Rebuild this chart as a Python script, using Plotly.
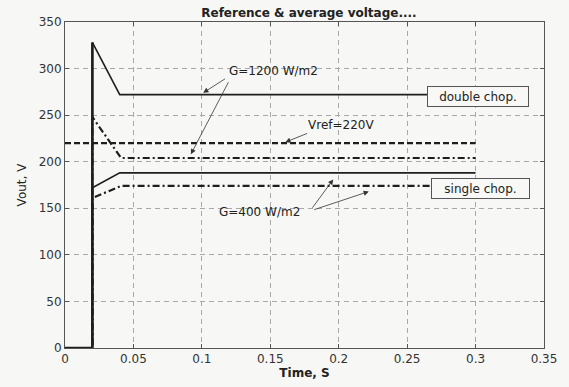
import plotly.graph_objects as go

# ---- data ----
t_steps = [0, 0.02, 0.02, 0.04, 0.3]
double_1200 = [0, 0, 328, 272, 272]
double_400 = [0, 0, 172, 188, 188]
t_single = [0, 0.02, 0.02, 0.041, 0.3]
single_1200 = [0, 0, 248, 204, 204]
single_400 = [0, 0, 161, 174, 174]
t_ref = [0, 0.3]
vref = [220, 220]

x_ticks = [0, 0.05, 0.1, 0.15, 0.2, 0.25, 0.3, 0.35]
x_tick_text = ["0", "0.05", "0.1", "0.15", "0.2", "0.25", "0.3", "0.35"]
y_ticks = [0, 50, 100, 150, 200, 250, 300, 350]

FAM = "DejaVu Sans, Liberation Sans, Arial, sans-serif"
ink = "#1e1e1e"
fig = go.Figure()
fig.add_trace(go.Scatter(x=t_ref, y=vref, mode="lines",
                         line=dict(color=ink, width=2.2, dash="6px,3px")))
fig.add_trace(go.Scatter(x=t_single, y=single_1200, mode="lines",
                         line=dict(color=ink, width=2.2, dash="7px,3px,2px,3px")))
fig.add_trace(go.Scatter(x=t_single, y=single_400, mode="lines",
                         line=dict(color=ink, width=2.2, dash="7px,3px,2px,3px")))
fig.add_trace(go.Scatter(x=t_steps, y=double_1200, mode="lines",
                         line=dict(color=ink, width=1.6)))
fig.add_trace(go.Scatter(x=t_steps, y=double_400, mode="lines",
                         line=dict(color=ink, width=1.6)))
# thick step edge
fig.add_trace(go.Scatter(x=[0, 0.02, 0.02], y=[0, 0, 328], mode="lines",
                         line=dict(color=ink, width=2.6)))

font_txt = dict(family=FAM, size=12, color="#222")
arrow_common = dict(showarrow=True, arrowhead=2, arrowsize=1.3, arrowwidth=0.8,
                    arrowcolor="#333", axref="x", ayref="y", text="")

annotations = [
    dict(x=0.152, y=297, text="G=1200 W/m2", showarrow=False, font=font_txt),
    dict(x=0.101, y=274, ax=0.118, ay=290, **arrow_common),
    dict(x=0.092, y=208, ax=0.120, ay=287, **arrow_common),
    dict(x=0.2015, y=239, text="Vref=220V", showarrow=False, font=font_txt),
    dict(x=0.161, y=221, ax=0.178, ay=231, **arrow_common),
    dict(x=0.142, y=146, text="G=400 W/m2", showarrow=False, font=font_txt),
    dict(x=0.196, y=181, ax=0.180, ay=149, **arrow_common),
    dict(x=0.222, y=168, ax=0.181, ay=148, **arrow_common),
    dict(x=0.3016, y=270, text="double chop.", showarrow=False, font=font_txt,
         width=96, height=15, align="center",
         bgcolor="#f8f8f6", bordercolor="#555", borderwidth=1, borderpad=2),
    dict(x=0.3034, y=171, text="single chop.", showarrow=False, font=font_txt,
         width=93, height=15, align="center",
         bgcolor="#f8f8f6", bordercolor="#555", borderwidth=1, borderpad=2),
]

axis_common = dict(showline=True, linecolor="#555", linewidth=1, mirror="ticks",
                   ticks="inside", ticklen=4, tickcolor="#555",
                   showgrid=True, gridcolor="#a8a8a8", gridwidth=1, griddash="5px,4px",
                   zeroline=False,
                   tickfont=dict(family=FAM, size=12, color="#333"))

fig.update_layout(
    width=569, height=387,
    margin=dict(l=65, r=16, t=22, b=29),
    paper_bgcolor="#f7f7f5", plot_bgcolor="#f7f7f5",
    showlegend=False,
    title=dict(text="<b>Reference & average voltage....</b>", x=0.543, xanchor="center",
               y=0.968, yanchor="middle",
               font=dict(family=FAM, size=12, color="#222")),
    xaxis=dict(range=[0, 0.35], tickvals=x_ticks, ticktext=x_tick_text,
               title=dict(text="<b>Time, S</b>", standoff=0,
                          font=dict(family=FAM, size=12, color="#222")),
               **axis_common),
    yaxis=dict(range=[0, 350], tickvals=y_ticks,
               title=dict(text="Vout, V", standoff=9,
                          font=dict(family=FAM, size=12, color="#222")),
               **axis_common),
    annotations=annotations,
)

fig.write_html("out.html")
